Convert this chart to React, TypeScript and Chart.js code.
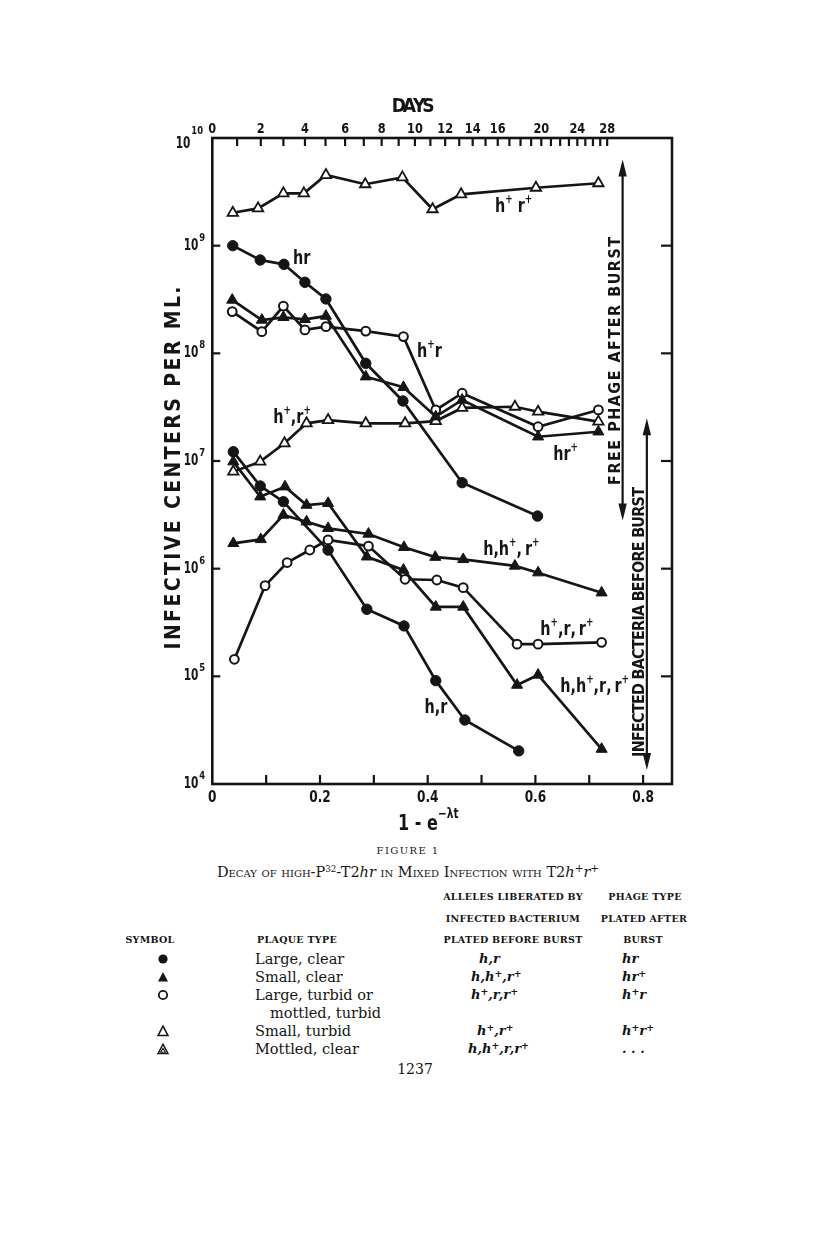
import React, { useEffect, useRef } from "react";
import { Chart, registerables } from "chart.js";

Chart.register(...registerables);

const INK = "#151515";
const COND = "'DejaVu Sans Condensed', 'DejaVu Sans', sans-serif";
const SERIF = "'DejaVu Serif', 'Liberation Serif', serif";

// ---------- axes ----------
const X_MIN = 0;
const X_MAX = 0.8537;
const Y_MIN = 1e4;
const Y_MAX = 1e10;
const X_TICKS = [0.1, 0.2, 0.3, 0.4, 0.5, 0.6, 0.7, 0.8];
const X_LABEL_VALUES = [0, 0.2, 0.4, 0.6, 0.8];
const X_LABEL_TEXT = ["0", "0.2", "0.4", "0.6", "0.8"];
const Y_EXPONENTS = [4, 5, 6, 7, 8, 9, 10];
const DAY_TICKS = [1, 2, 3, 4, 5, 6, 7, 8, 9, 10, 11, 12, 13, 14, 15, 16, 17, 18, 19, 20, 21, 22, 23, 24, 25, 26, 27, 28];
const DAY_LABELS = [0, 2, 4, 6, 8, 10, 12, 14, 16, 20, 24, 28];
const DECAY_LAMBDA = 0.0472; // per day, x = 1 - exp(-lambda * days)

// ---------- free phage after burst ----------
const PHAGE_HPRP_X = [0.038, 0.085, 0.132, 0.170, 0.211, 0.284, 0.353, 0.409, 0.462, 0.601, 0.717];
const PHAGE_HPRP_Y = [2.02e9, 2.22e9, 3.06e9, 3.06e9, 4.53e9, 3.72e9, 4.31e9, 2.18e9, 3.0e9, 3.45e9, 3.8e9];

const PHAGE_HR_X = [0.038, 0.089, 0.133, 0.172, 0.211, 0.285, 0.354, 0.464, 0.604];
const PHAGE_HR_Y = [1.0e9, 7.36e8, 6.71e8, 4.57e8, 3.2e8, 8.08e7, 3.61e7, 6.29e6, 3.08e6];

const PHAGE_HRP_X = [0.037, 0.092, 0.132, 0.172, 0.211, 0.285, 0.355, 0.415, 0.464, 0.605, 0.717];
const PHAGE_HRP_Y = [3.13e8, 2.04e8, 2.16e8, 2.07e8, 2.22e8, 6.07e7, 4.84e7, 2.58e7, 3.69e7, 1.68e7, 1.87e7];

const PHAGE_HPR_X = [0.037, 0.092, 0.132, 0.172, 0.211, 0.285, 0.355, 0.415, 0.464, 0.605, 0.717];
const PHAGE_HPR_Y = [2.44e8, 1.59e8, 2.75e8, 1.65e8, 1.77e8, 1.61e8, 1.43e8, 2.98e7, 4.26e7, 2.08e7, 2.98e7];

// ---------- infected bacteria plated before burst ----------
const BACT_HPRP_X = [0.039, 0.089, 0.134, 0.175, 0.215, 0.285, 0.358, 0.415, 0.464, 0.562, 0.605, 0.717];
const BACT_HPRP_Y = [7.96e6, 9.86e6, 1.46e7, 2.24e7, 2.40e7, 2.24e7, 2.24e7, 2.35e7, 3.11e7, 3.19e7, 2.87e7, 2.32e7];

const BACT_HR_X = [0.039, 0.089, 0.132, 0.215, 0.287, 0.356, 0.415, 0.469, 0.569];
const BACT_HR_Y = [1.22e7, 5.86e6, 4.19e6, 1.49e6, 4.2e5, 2.94e5, 9.12e4, 3.93e4, 2.03e4];

const BACT_HHPRRP_X = [0.039, 0.089, 0.135, 0.175, 0.215, 0.287, 0.355, 0.415, 0.466, 0.566, 0.605, 0.723];
const BACT_HHPRRP_Y = [9.86e6, 4.66e6, 5.77e6, 3.9e6, 4.05e6, 1.29e6, 9.72e5, 4.41e5, 4.41e5, 8.3e4, 1.03e5, 2.11e4];

const BACT_HHPRP_X = [0.039, 0.090, 0.132, 0.175, 0.215, 0.290, 0.356, 0.414, 0.466, 0.562, 0.605, 0.723];
const BACT_HHPRP_Y = [1.72e6, 1.87e6, 3.15e6, 2.73e6, 2.37e6, 2.10e6, 1.58e6, 1.28e6, 1.22e6, 1.06e6, 9.18e5, 5.98e5];

const BACT_HPRRP_X = [0.041, 0.098, 0.139, 0.181, 0.215, 0.290, 0.358, 0.417, 0.466, 0.566, 0.605, 0.723];
const BACT_HPRRP_Y = [1.44e5, 6.95e5, 1.14e6, 1.49e6, 1.85e6, 1.62e6, 7.97e5, 7.85e5, 6.66e5, 1.99e5, 1.99e5, 2.07e5];

// ---------- curve labels (left end, baseline) ----------
const CURVE_LABELS = ["h^+ r^+", "hr", "h^+r", "h^+,r^+", "hr^+", "h,h^+,\u2009r^+", "h^+,r,\u2009r^+", "h,h^+,r,\u2009r^+", "h,r"];
const CURVE_LABEL_X = [0.525, 0.150, 0.380, 0.113, 0.633, 0.503, 0.609, 0.646, 0.394];
const CURVE_LABEL_Y = [2.06e9, 6.76e8, 9.25e7, 2.25e7, 1.02e7, 1.34e6, 2.42e5, 7.16e4, 4.57e4];

// ---------- right-hand brackets ----------
const PHAGE_ARROW = { x: 0.762, top: 6.3e9, bottom: 2.8e6, mid: 8.5e7, text: "FREE PHAGE AFTER BURST", len: 248 };
const BACT_ARROW = { x: 0.807, top: 2.5e7, bottom: 1.35e4, mid: 3.2e5, text: "INFECTED BACTERIA BEFORE BURST", len: 270 };

// ---------- table ----------
const TABLE_SYMBOLS = ["dot", "tri", "circle", "opentri", "mottled"];
const PLAQUE_TYPES = ["Large, clear", "Small, clear", "Large, turbid or", "Small, turbid", "Mottled, clear"];
const ALLELES = ["h,r", "h,h^+,r^+", "h^+,r,r^+", "h^+,r^+", "h,h^+,r,r^+"];
const PHAGE_TYPES = ["hr", "hr^+", "h^+r", "h^+r^+", ". . ."];

// layout
const CANVAS_W = 816;
const CANVAS_H = 840;
const PLOT_LEFT = 212.3;
const PLOT_RIGHT = 672;
const PLOT_TOP = 138;
const PLOT_BOTTOM = 784;

type Mark = { shape: string; r: number; fill: string; bw: number };
const FILLED_CIRCLE: Mark = { shape: "circle", r: 5.2, fill: INK, bw: 1 };
const OPEN_CIRCLE: Mark = { shape: "circle", r: 4.4, fill: "#ffffff", bw: 2 };
const FILLED_TRI: Mark = { shape: "triangle", r: 6.4, fill: INK, bw: 1 };
const OPEN_TRI: Mark = { shape: "triangle", r: 6, fill: "#ffffff", bw: 1.8 };

function series(label: string, xs: number[], ys: number[], m: Mark) {
  return {
    label,
    data: xs.map((x, i) => ({ x, y: ys[i] })),
    showLine: true,
    borderColor: INK,
    borderWidth: 2.7,
    tension: 0,
    pointStyle: m.shape,
    pointRadius: m.r,
    pointBackgroundColor: m.fill,
    pointBorderColor: INK,
    pointBorderWidth: m.bw,
    clip: false as any,
  };
}

const DATASETS = [
  series("h+r+ phage", PHAGE_HPRP_X, PHAGE_HPRP_Y, OPEN_TRI),
  series("hr phage", PHAGE_HR_X, PHAGE_HR_Y, FILLED_CIRCLE),
  series("hr+ phage", PHAGE_HRP_X, PHAGE_HRP_Y, FILLED_TRI),
  series("h+r phage", PHAGE_HPR_X, PHAGE_HPR_Y, OPEN_CIRCLE),
  series("h,h+,r,r+ bacteria", BACT_HHPRRP_X, BACT_HHPRRP_Y, FILLED_TRI),
  series("h,h+,r+ bacteria", BACT_HHPRP_X, BACT_HHPRP_Y, FILLED_TRI),
  series("h,r bacteria", BACT_HR_X, BACT_HR_Y, FILLED_CIRCLE),
  series("h+,r,r+ bacteria", BACT_HPRRP_X, BACT_HPRRP_Y, OPEN_CIRCLE),
  series("h+,r+ bacteria", BACT_HPRP_X, BACT_HPRP_Y, OPEN_TRI),
];

// rich text: '^c' or '^{...}' = superscript
function parseRich(text: string) {
  const parts: { t: string; sup: boolean }[] = [];
  for (let i = 0; i < text.length; i++) {
    if (text[i] === "^") {
      if (text[i + 1] === "{") {
        const end = text.indexOf("}", i);
        parts.push({ t: text.slice(i + 2, end), sup: true });
        i = end;
      } else {
        parts.push({ t: text[i + 1], sup: true });
        i++;
      }
    } else parts.push({ t: text[i], sup: false });
  }
  return parts;
}

function rich(ctx: CanvasRenderingContext2D, text: string, x: number, y: number, size: number, align: string, sx: number, supScale = 0.72, supRise = 0.48) {
  const parts = parseRich(text);
  const fontFor = (sup: boolean) => `bold ${sup ? size * supScale : size}px ${COND}`;
  let w = 0;
  const ws = parts.map((p) => {
    ctx.font = fontFor(p.sup);
    const pw = ctx.measureText(p.t).width;
    w += pw;
    return pw;
  });
  ctx.save();
  ctx.translate(x, y);
  ctx.scale(sx, 1);
  ctx.textAlign = "left";
  ctx.textBaseline = "alphabetic";
  let cx = align === "center" ? -w / 2 : align === "right" ? -w : 0;
  parts.forEach((p, i) => {
    ctx.font = fontFor(p.sup);
    ctx.fillText(p.t, cx, p.sup ? -size * supRise : 0);
    cx += ws[i];
  });
  ctx.restore();
}

function spaced(ctx: CanvasRenderingContext2D, text: string, cx: number, cy: number, length: number, font: string, rot: number) {
  ctx.save();
  ctx.translate(cx, cy);
  if (rot) ctx.rotate(rot);
  ctx.font = font;
  ctx.textAlign = "left";
  ctx.textBaseline = "alphabetic";
  const chars = Array.from(text);
  const ws = chars.map((c) => ctx.measureText(c).width);
  const tot = ws.reduce((a, b) => a + b, 0);
  const gap = chars.length > 1 ? (length - tot) / (chars.length - 1) : 0;
  let x = -length / 2;
  chars.forEach((c, i) => {
    ctx.fillText(c, x, 0);
    x += ws[i] + gap;
  });
  ctx.restore();
}

function seg(ctx: CanvasRenderingContext2D, x1: number, y1: number, x2: number, y2: number) {
  ctx.beginPath();
  ctx.moveTo(x1, y1);
  ctx.lineTo(x2, y2);
  ctx.stroke();
}

function arrowHead(ctx: CanvasRenderingContext2D, x: number, tipY: number, dir: number) {
  ctx.beginPath();
  ctx.moveTo(x, tipY);
  ctx.lineTo(x - 4.2, tipY + dir * 17);
  ctx.lineTo(x + 4.2, tipY + dir * 17);
  ctx.closePath();
  ctx.fill();
}

const decor = {
  id: "decor",
  afterDraw(chart: any) {
    const ctx: CanvasRenderingContext2D = chart.ctx;
    const { left, right, top, bottom } = chart.chartArea;
    const xs = chart.scales.x;
    const ys = chart.scales.y;
    ctx.save();
    ctx.strokeStyle = INK;
    ctx.fillStyle = INK;
    ctx.lineCap = "butt";

    // frame
    ctx.lineWidth = 2.6;
    ctx.strokeRect(left, top, right - left, bottom - top);

    // ticks
    ctx.lineWidth = 2.2;
    X_TICKS.forEach((v) => {
      const px = xs.getPixelForValue(v);
      seg(ctx, px, bottom, px, bottom - 9);
    });
    Y_EXPONENTS.forEach((e) => {
      if (e === 4 || e === 10) return;
      const py = ys.getPixelForValue(Math.pow(10, e));
      seg(ctx, left, py, left + 8, py);
      seg(ctx, right, py, right - 11, py);
    });
    DAY_TICKS.forEach((d) => {
      const px = xs.getPixelForValue(1 - Math.exp(-DECAY_LAMBDA * d));
      seg(ctx, px, top, px, top + 8);
    });

    // bottom tick labels
    X_LABEL_VALUES.forEach((v, i) => {
      rich(ctx, X_LABEL_TEXT[i], xs.getPixelForValue(v), bottom + 18, 15, "center", 0.9);
    });
    // x-axis title
    rich(ctx, "1 - e^{\u2212\u03bbt}", xs.getPixelForValue(0.345), bottom + 46, 21, "left", 0.85, 0.66, 0.55);

    // top day labels
    DAY_LABELS.forEach((d) => {
      rich(ctx, String(d), xs.getPixelForValue(1 - Math.exp(-DECAY_LAMBDA * d)), top - 5, 14, "center", 0.9);
    });
    spaced(ctx, "DAYS", xs.getPixelForValue(0.373), top - 26, 43, `bold 19px ${COND}`, 0);

    // y tick labels 10^n
    Y_EXPONENTS.forEach((e) => {
      const py = ys.getPixelForValue(Math.pow(10, e));
      if (e === 10) {
        rich(ctx, "10", left - 22, py + 10, 15, "right", 0.78);
        rich(ctx, String(e), left - 21, py - 4, 11, "left", 0.85);
      } else {
        rich(ctx, "10", left - 14, py + 4, 15, "right", 0.78);
        rich(ctx, String(e), left - 13, py - 5, 11, "left", 0.85);
      }
    });

    // y-axis title
    spaced(ctx, "INFECTIVE CENTERS PER ML.", left - 32, (top + bottom) / 2 + 7, 363, `bold 21px ${COND}`, -Math.PI / 2);

    // curve labels
    CURVE_LABELS.forEach((t, i) => {
      rich(ctx, t, xs.getPixelForValue(CURVE_LABEL_X[i]), ys.getPixelForValue(CURVE_LABEL_Y[i]), 20, "left", 0.8, 0.62, 0.45);
    });

    // right-hand brackets
    [PHAGE_ARROW, BACT_ARROW].forEach((a) => {
      const ax = xs.getPixelForValue(a.x);
      const y1 = ys.getPixelForValue(a.top);
      const y2 = ys.getPixelForValue(a.bottom);
      ctx.lineWidth = 2.2;
      seg(ctx, ax, y1 + 8, ax, y2 - 8);
      arrowHead(ctx, ax, y1, 1);
      arrowHead(ctx, ax, y2, -1);
      spaced(ctx, a.text, ax - 3, ys.getPixelForValue(a.mid), a.len, `bold 16px ${COND}`, -Math.PI / 2);
    });

    ctx.restore();
  },
};

function Sup({ s }: { s: string }) {
  const parts = parseRich(s);
  return (
    <>
      {parts.map((p, i) =>
        p.sup ? (
          <sup key={i} style={{ fontSize: "0.72em", verticalAlign: "0.45em", lineHeight: 0 }}>
            {p.t}
          </sup>
        ) : (
          <React.Fragment key={i}>{p.t}</React.Fragment>
        )
      )}
    </>
  );
}

function Txt({ x, y, align = "left", children, style }: any) {
  const w = 500;
  const left = align === "center" ? x - w / 2 : align === "right" ? x - w : x;
  return (
    <div
      style={{
        position: "absolute",
        left,
        top: y - 10,
        width: w,
        height: 20,
        lineHeight: "20px",
        textAlign: align,
        whiteSpace: "nowrap",
        color: INK,
        fontFamily: SERIF,
        ...style,
      }}
    >
      {children}
    </div>
  );
}

function Symbol({ kind }: { kind: string }) {
  return (
    <svg width="14" height="14" viewBox="0 0 14 14" style={{ display: "block" }}>
      {kind === "dot" && <circle cx="7" cy="7" r="4.6" fill={INK} />}
      {kind === "circle" && <circle cx="7" cy="7" r="4.2" fill="none" stroke={INK} strokeWidth="1.8" />}
      {kind === "tri" && <polygon points="7,2 12,11.5 2,11.5" fill={INK} />}
      {kind === "opentri" && <polygon points="7,2.2 12,11.6 2,11.6" fill="none" stroke={INK} strokeWidth="1.5" />}
      {kind === "mottled" && (
        <>
          <polygon points="7,2.2 12,11.6 2,11.6" fill="none" stroke={INK} strokeWidth="1.4" />
          <polygon points="7,6.2 9.4,10.2 4.6,10.2" fill="none" stroke={INK} strokeWidth="1.1" />
        </>
      )}
    </svg>
  );
}

const ROW_Y = [959, 977, 995, 1031, 1049];
const ALLELE_LEFT = [479, 471, 471, 477, 468];

export default function App() {
  const ref = useRef<HTMLCanvasElement>(null);

  useEffect(() => {
    const canvas = ref.current;
    if (!canvas) return;
    const chart = new Chart(canvas, {
      type: "scatter",
      data: { datasets: DATASETS as any },
      options: {
        responsive: false,
        animation: false,
        devicePixelRatio: 1,
        events: [],
        layout: {
          padding: {
            left: PLOT_LEFT,
            right: CANVAS_W - PLOT_RIGHT,
            top: PLOT_TOP,
            bottom: CANVAS_H - PLOT_BOTTOM,
          },
        },
        plugins: {
          legend: { display: false },
          tooltip: { enabled: false },
          title: { display: false },
        },
        scales: {
          x: { type: "linear", min: X_MIN, max: X_MAX, display: false },
          y: { type: "logarithmic", min: Y_MIN, max: Y_MAX, display: false },
        },
      } as any,
      plugins: [decor as any],
    });
    return () => chart.destroy();
  }, []);

  const hdr = { fontWeight: 700, fontSize: 9.5, letterSpacing: 0.3 };
  const val = { fontWeight: 700, fontStyle: "italic", fontSize: 13 };
  const plainItalic = { fontVariant: "normal", fontStyle: "italic" };

  return (
    <div>
      <canvas ref={ref} width={CANVAS_W} height={CANVAS_H} style={{ position: "absolute", left: 0, top: 0, width: CANVAS_W, height: CANVAS_H }} />

      <Txt x={408} y={851} align="center" style={{ fontSize: 10, letterSpacing: 1.4 }}>
        FIGURE 1
      </Txt>
      <Txt x={408} y={872} align="center" style={{ fontSize: 14.5, fontVariant: "small-caps" }}>
        Decay of high-P<sup style={{ fontSize: "0.6em", verticalAlign: "0.55em", lineHeight: 0, fontVariant: "normal" }}>32</sup>-T2<i style={plainItalic}>hr</i> in Mixed Infection with T2
        <i style={plainItalic}>
          <Sup s="h^+r^+" />
        </i>
      </Txt>

      <Txt x={513} y={897} align="center" style={hdr}>ALLELES LIBERATED BY</Txt>
      <Txt x={645} y={897} align="center" style={hdr}>PHAGE TYPE</Txt>
      <Txt x={513} y={919} align="center" style={hdr}>INFECTED BACTERIUM</Txt>
      <Txt x={644} y={919} align="center" style={hdr}>PLATED AFTER</Txt>
      <Txt x={150} y={940} align="center" style={hdr}>SYMBOL</Txt>
      <Txt x={297} y={940} align="center" style={hdr}>PLAQUE TYPE</Txt>
      <Txt x={513} y={940} align="center" style={hdr}>PLATED BEFORE BURST</Txt>
      <Txt x={643} y={940} align="center" style={hdr}>BURST</Txt>

      {TABLE_SYMBOLS.map((k, i) => (
        <div key={"s" + i} style={{ position: "absolute", left: 163 - 7, top: ROW_Y[i] - 7 }}>
          <Symbol kind={k} />
        </div>
      ))}
      {PLAQUE_TYPES.map((t, i) => (
        <Txt key={"p" + i} x={255} y={ROW_Y[i]} style={{ fontSize: 14.5 }}>
          {t}
        </Txt>
      ))}
      <Txt x={270} y={1013} style={{ fontSize: 14.5 }}>mottled, turbid</Txt>
      {ALLELES.map((t, i) => (
        <Txt key={"a" + i} x={ALLELE_LEFT[i]} y={ROW_Y[i]} style={val}>
          <Sup s={t} />
        </Txt>
      ))}
      {PHAGE_TYPES.map((t, i) => (
        <Txt key={"f" + i} x={622} y={ROW_Y[i]} style={val}>
          <Sup s={t} />
        </Txt>
      ))}
      <Txt x={415} y={1069} align="center" style={{ fontSize: 14 }}>1237</Txt>
    </div>
  );
}
